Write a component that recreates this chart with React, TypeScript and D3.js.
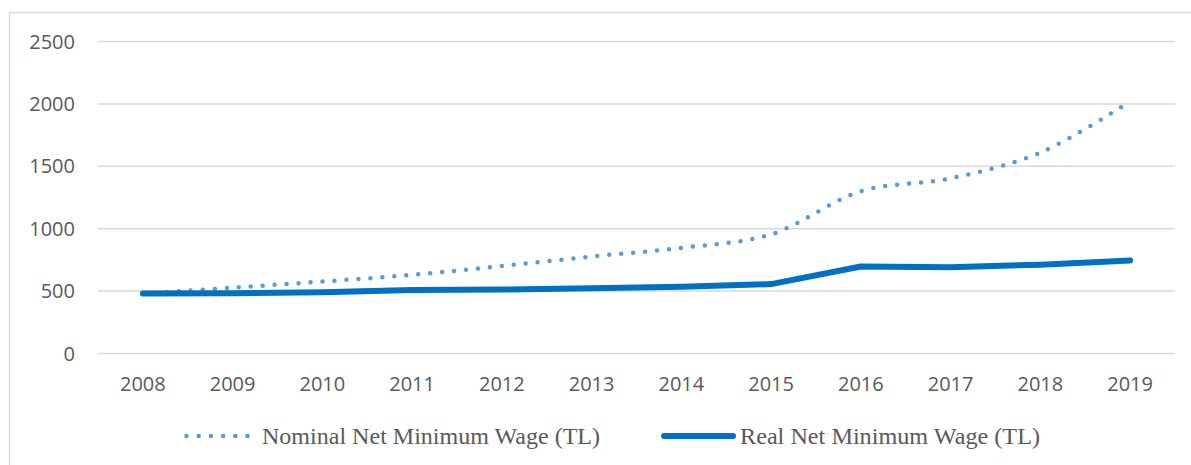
import React from "react";
import * as d3 from "d3";

const years = ["2008","2009","2010","2011","2012","2013","2014","2015","2016","2017","2018","2019"];
const nominal = [481, 527, 577, 630, 701, 777, 846, 955, 1300, 1404, 1610, 2020];
const real = [481, 483, 490, 508, 512, 523, 535, 556, 697, 692, 712, 746];
const yTicks = [0, 500, 1000, 1500, 2000, 2500];

const W = 1191, H = 465;

export default function App() {
  const x = d3.scaleBand<string>().domain(years).range([98, 1175]);
  const y = d3.scaleLinear().domain([0, 2500]).range([353.5, 41.5]);
  const cx = (d: string) => (x(d) as number) + x.bandwidth() / 2;
  const nomLine = d3.line<number>().x((_, i) => cx(years[i])).y(v => y(v)).curve(d3.curveCatmullRom.alpha(0.5));
  const realLine = d3.line<number>().x((_, i) => cx(years[i])).y(v => y(v));
  const tickFont = "'Open Sans', 'Noto Sans', sans-serif";
  const serif = "'Liberation Serif', 'Times New Roman', serif";
  return (
    <svg width={W} height={H} style={{ position: "absolute", left: 0, top: 0, background: "#fff" }}>
      <rect x={9.5} y={12.5} width={1200} height={500} fill="#fff" stroke="#d9d9d9" strokeWidth={1.5} />
      {yTicks.map(t => (
        <g key={t}>
          <line x1={98} x2={1175} y1={y(t)} y2={y(t)} stroke="#d9d9d9" strokeWidth={1.5} />
          <text x={75} y={y(t)} dy="0.35em" textAnchor="end" fontFamily={tickFont} fontSize={20} fill="#595959">{t}</text>
        </g>
      ))}
      {years.map(yr => (
        <text key={yr} x={cx(yr)} y={384} dy="0.35em" textAnchor="middle" fontFamily={tickFont} fontSize={20} fill="#595959">{yr}</text>
      ))}
      <path d={nomLine(nominal) || ""} fill="none" stroke="#5b9bd5" strokeWidth={4.5} strokeLinecap="round" strokeDasharray="0 12" />
      <path d={realLine(real) || ""} fill="none" stroke="#0070c0" strokeWidth={6} strokeLinecap="round" strokeLinejoin="round" />
      <g>
        <line x1={186.5} x2={248} y1={436} y2={436} stroke="#5b9bd5" strokeWidth={4.5} strokeLinecap="round" strokeDasharray="0 12.2" />
        <text x={262} y={444} fontFamily={serif} fontSize={24} fill="#595959" textLength={338} lengthAdjust="spacingAndGlyphs">Nominal Net Minimum Wage (TL)</text>
        <line x1={664} x2={733} y1={436} y2={436} stroke="#0070c0" strokeWidth={6} strokeLinecap="round" />
        <text x={740} y={444} fontFamily={serif} fontSize={24} fill="#595959" textLength={300} lengthAdjust="spacingAndGlyphs">Real Net Minimum Wage (TL)</text>
      </g>
    </svg>
  );
}
